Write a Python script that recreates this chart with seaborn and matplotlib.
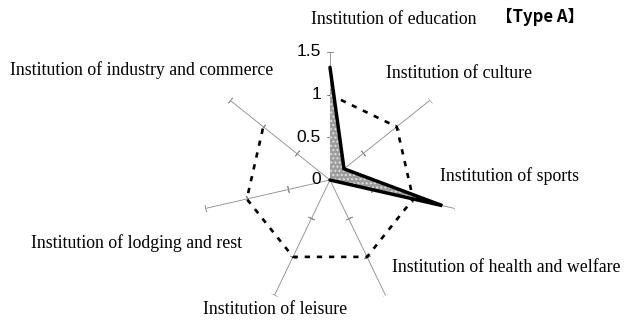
import numpy as np
import pandas as pd
import matplotlib
matplotlib.use("Agg")
import matplotlib.pyplot as plt
import seaborn as sns

categories = [
    "Institution of education",
    "Institution of culture",
    "Institution of sports",
    "Institution of health and welfare",
    "Institution of leisure",
    "Institution of lodging and rest",
    "Institution of industry and commerce",
]
values_type_a = [1.32, 0.21, 1.35, 0.0, 0.0, 0.0, 0.0]
reference_ring = [1, 1, 1, 1, 1, 1, 1]
tick_values = [0, 0.5, 1, 1.5]
tick_labels = ["0", "0.5", "1", "1.5"]
title = "\u3010Type A\u3011"

sns.set_theme(style="white")
plt.rcParams["font.family"] = ["Liberation Serif", "DejaVu Serif"]

W, H = 625, 324
fig = plt.figure(figsize=(W / 100, H / 100), dpi=100)

cx, cy, R = 330, 180, 128
ax = fig.add_axes([(cx - R) / W, (H - cy - R) / H, 2 * R / W, 2 * R / H], projection="polar")
ax.set_theta_offset(np.pi / 2)
ax.set_theta_direction(-1)
ax.set_ylim(0, 1.5)
ax.grid(False)
ax.spines["polar"].set_visible(False)
ax.patch.set_alpha(0)

n = len(categories)
theta = np.arange(n) * 2 * np.pi / n

# axis spokes with tick marks
for i, t in enumerate(theta):
    ax.plot([t, t], [0, 1.5], color="#8a8a8a", lw=0.6, zorder=1)
    deg = np.degrees(t)
    ax.plot([t, t, t], [0.5, 1.0, 1.5], linestyle="none",
            marker=(2, 2, 90 - deg), markersize=5, mew=0.6, color="#8a8a8a", zorder=1)

# dashed reference ring at 1
ring_df = pd.DataFrame({"theta": np.append(theta, theta[0]),
                        "r": reference_ring + [reference_ring[0]]})
sns.lineplot(data=ring_df, x="theta", y="r", sort=False, ax=ax, color="black",
             lw=1.9, linestyle=(0, (2.0, 2.6)), zorder=2)

# data polygon
poly_df = pd.DataFrame({"theta": np.append(theta, theta[0]),
                        "r": values_type_a + [values_type_a[0]]})
ax.fill(poly_df["theta"], poly_df["r"], facecolor="#9c9c9c", edgecolor="#e0e0e0",
        hatch="....", lw=0, zorder=3)
sns.lineplot(data=poly_df, x="theta", y="r", sort=False, ax=ax, color="black",
             lw=2.5, zorder=4)
ax.lines[-1].set_solid_joinstyle("miter")
ax.set_xlabel("")
ax.set_ylabel("")
ax.set_ylim(0, 1.5)
ax.set_xticks([])
ax.set_yticks([])

# radial tick labels along top axis
for v, lab in zip(tick_values, tick_labels):
    ax.annotate(lab, xy=(0, v), xytext=(-9, 0), textcoords="offset pixels",
                ha="right", va="center", fontsize=12.5,
                family=["Liberation Sans", "DejaVu Sans"], color="black", zorder=5)

def fx(x):
    return x / W

def fy(y):
    return 1 - y / H

label_pos = [(394, 20), (459, 73), (509, 176), (506, 268), (275, 310), (137, 243), (142, 70)]
for lab, (x, y) in zip(categories, label_pos):
    fig.text(fx(x), fy(y), lab, ha="center", va="center", fontsize=12.8, color="black")

fig.text(fx(540), fy(17), title, ha="center", va="center", fontsize=12,
         fontweight="bold", family=["Noto Sans CJK JP", "DejaVu Sans"], color="black")

fig.savefig("out.png", dpi=100, facecolor="white")
